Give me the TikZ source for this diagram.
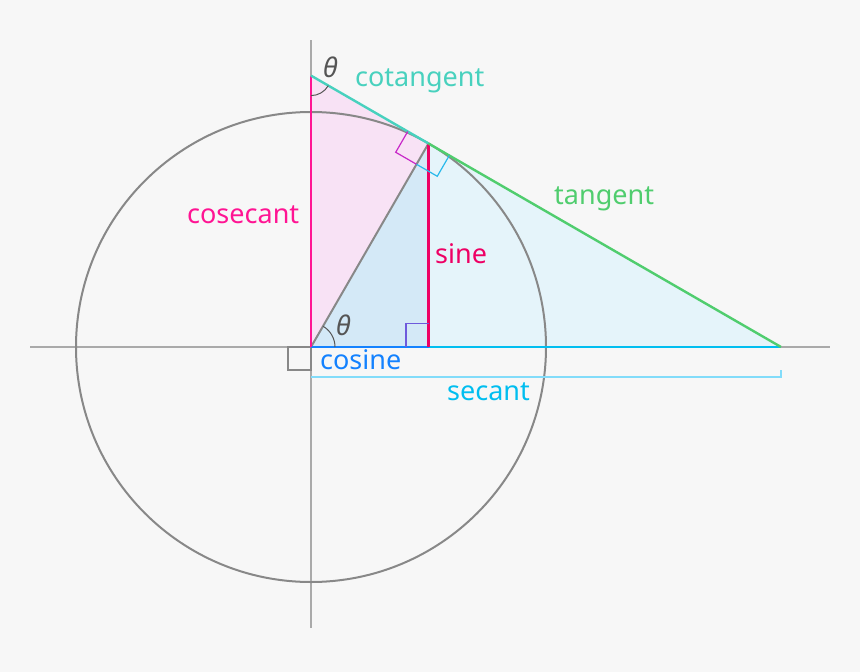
\documentclass[tikz,border=0pt]{standalone}
\usepackage{fontspec}
\setmainfont{Noto Sans}
\usetikzlibrary{calc}
\definecolor{bg}{RGB}{247,247,247}
\definecolor{csccol}{RGB}{255,20,147}
\definecolor{sincol}{RGB}{238,0,100}
\definecolor{cotcol}{RGB}{72,209,190}
\definecolor{tancol}{RGB}{80,205,110}
\definecolor{coscol}{RGB}{20,130,255}
\definecolor{seccol}{RGB}{0,190,240}
\definecolor{bracketcol}{RGB}{130,220,250}
\definecolor{pinkfill}{RGB}{248,226,245}
\definecolor{bluefill}{RGB}{212,233,247}
\definecolor{cyanfill}{RGB}{229,244,250}
\definecolor{magmark}{RGB}{200,40,200}
\definecolor{cyanmark}{RGB}{40,185,235}
\definecolor{purplemark}{RGB}{110,90,220}
\definecolor{circlegray}{RGB}{136,136,136}
\definecolor{axisgray}{RGB}{170,170,170}
\definecolor{thetagray}{RGB}{85,85,85}
\tikzset{
  lbl/.style={anchor=base west, inner sep=0pt, font=\fontsize{27}{32}\selectfont},
  thlbl/.style={anchor=base west, inner sep=0pt, text=thetagray, font=\fontsize{27}{32}\selectfont\itshape},
  trigline/.style={line width=2.4pt},
}
\begin{document}
\begin{tikzpicture}[x=1pt,y=-1pt]
\fill[bg] (0,0) rectangle (860,672);
\useasboundingbox (0,0) rectangle (860,672);
% key points
\coordinate (O) at (311,347);
\coordinate (P) at (428.5,143.5);
\coordinate (S) at (781,347);
\coordinate (K) at (311,75.6);
\coordinate (F) at (428.5,347);
% fills
\fill[cyanfill] (O) -- (P) -- (S) -- cycle;
\fill[pinkfill] (O) -- (K) -- (P) -- cycle;
\fill[bluefill] (O) -- (F) -- (P) -- cycle;
% axes
\coordinate (XL) at (30,347);
\coordinate (XR) at (830,347);
\coordinate (YT) at (311,40);
\coordinate (YB) at (311,628);
\draw[axisgray, line width=1.4pt] (XL) -- (XR);
\draw[axisgray, line width=1.4pt] (YT) -- (YB);
% circle
\draw[circlegray, line width=2pt] (O) circle[radius=235];
% radius
\draw[circlegray, line width=2pt] (O) -- (P);
% origin right angle
\draw[circlegray, line width=1.2pt] (288,347) rectangle (311,370);
% secant bracket
\coordinate (BL) at (311,377);
\coordinate (BR) at (781,377);
\coordinate (BT) at (781,370);
\draw[bracketcol, line width=1.2pt] (BL) -- (BR) -- (BT);
% trig lines
\draw[seccol, trigline] (O) -- (S);
\draw[coscol, trigline] (O) -- (F);
\draw[csccol, trigline] (O) -- (K);
\draw[sincol, trigline] (F) -- (P);
\draw[cotcol, trigline] (K) -- (P);
\draw[tancol, trigline] (P) -- (S);
% right angle at sine foot
\draw[purplemark, line width=1.2pt] (406,347) -- (406,323.5) -- (428.5,323.5);
% right angle markers at tangent point
\coordinate (A1) at ($(P)+(-20.78,-12)$);
\coordinate (A3) at ($(P)+(-12,20.78)$);
\coordinate (A2) at ($(A1)+(-12,20.78)$);
\coordinate (B1) at ($(P)+(20.78,12)$);
\coordinate (B2) at ($(B1)+(-12,20.78)$);
\draw[magmark, line width=1.2pt] (A1) -- (A2) -- (A3);
\draw[cyanmark, line width=1.2pt] (A3) -- (B2) -- (B1);
% theta arcs
\draw[thetagray, line width=1pt] ($(O)+(24,0)$) arc[start angle=0, end angle=-60, radius=24];
\draw[thetagray, line width=1pt] ($(K)+(0,20)$) arc[start angle=90, end angle=30, radius=20];
% labels
\node[lbl, text=cotcol] (lcot) at (355,86) {cotangent};
\node[lbl, text=tancol] (ltan) at (554,204) {tangent};
\node[lbl, text=csccol] (lcsc) at (187,223) {cosecant};
\node[lbl, text=sincol] (lsin) at (435,263) {sine};
\node[lbl, text=coscol] (lcos) at (320,369) {cosine};
\node[lbl, text=seccol] (lsec) at (447,400) {secant};
\node[thlbl] (th1) at (323,77) {θ};
\node[thlbl] (th2) at (336,335) {θ};
\end{tikzpicture}
\end{document}
